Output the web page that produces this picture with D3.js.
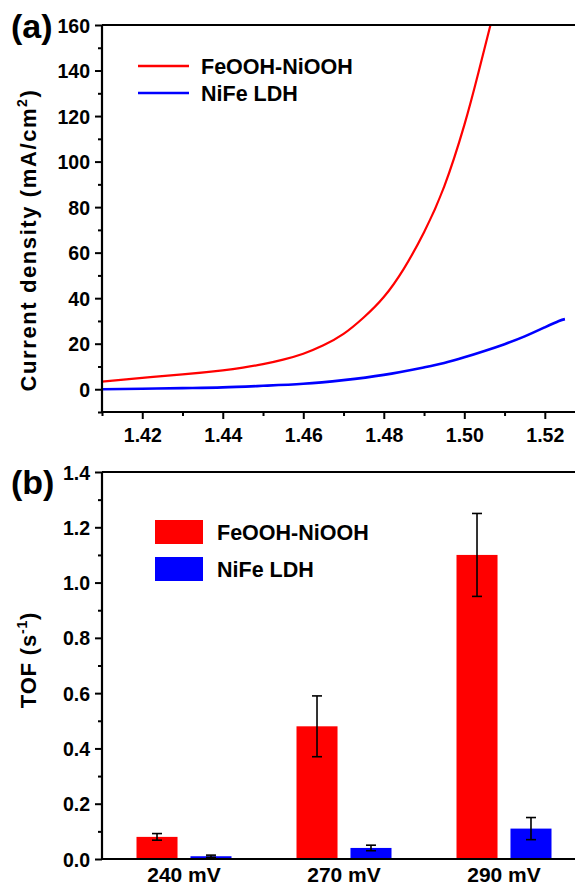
<!DOCTYPE html>
<html>
<head>
<meta charset="utf-8">
<script src="https://cdn.jsdelivr.net/npm/d3@7"></script>
<style>
  body { margin: 0; background: #fff; }
  svg { font-family: "Liberation Sans", Arial, sans-serif; font-weight: bold; }
</style>
</head>
<body>
<div id="chart"></div>
<script>
// (a) polarization curves
const potential_red = [1.41, 1.42, 1.43, 1.44, 1.445, 1.45, 1.455, 1.46, 1.465, 1.47, 1.475, 1.48, 1.485, 1.49, 1.495, 1.50, 1.5035, 1.5065];
const current_red = [3.3, 5.0, 6.5, 8.3, 9.5, 11.0, 13.0, 15.6, 19.3, 24.3, 31.5, 40.5, 53, 69, 89, 116, 139, 160];
const potential_blue = [1.41, 1.42, 1.43, 1.44, 1.45, 1.46, 1.47, 1.48, 1.49, 1.495, 1.50, 1.505, 1.51, 1.515, 1.52, 1.5235, 1.525];
const current_blue = [0.0, 0.2, 0.5, 0.8, 1.5, 2.4, 4.0, 6.3, 9.6, 11.5, 14.0, 16.8, 19.8, 23.2, 27.2, 30.0, 30.8];
const xTicksA = [1.42, 1.44, 1.46, 1.48, 1.50, 1.52];
const yTicksA = [0, 20, 40, 60, 80, 100, 120, 140, 160];

// (b) TOF bars
const categories = ["240 mV", "270 mV", "290 mV"];
const series = ["FeOOH-NiOOH", "NiFe LDH"];
const tof_red = [0.08, 0.48, 1.10];
const err_red = [0.012, 0.11, 0.15];
const tof_blue = [0.01, 0.04, 0.11];
const err_blue = [0.004, 0.01, 0.04];
const yTicksB = [0, 0.2, 0.4, 0.6, 0.8, 1.0, 1.2, 1.4];

const colors = { "FeOOH-NiOOH": "#ff0000", "NiFe LDH": "#0000ff" };

const width = 575, height = 888;
const svg = d3.select("#chart").append("svg")
    .attr("width", width)
    .attr("height", height);

function drawAxisY(g, y, major, minor, fmt) {
    g.append("g")
        .call(d3.axisLeft(y).tickValues(major).tickSize(7).tickSizeOuter(0).tickFormat(fmt))
        .call(a => a.select(".domain").remove())
        .call(a => a.selectAll("text").attr("font-size", 19.5).attr("x", -12).attr("dy", "0.36em"));
    g.append("g")
        .call(d3.axisLeft(y).tickValues(minor).tickSize(4).tickFormat(""))
        .call(a => a.select(".domain").remove());
    g.selectAll(".tick line").attr("stroke", "#000").attr("stroke-width", 2);
}

// ---------- panel (a) ----------
const xa = d3.scaleLinear().domain([1.41, 1.5275]).range([102, 575]);
const ya = d3.scaleLinear().domain([-10, 160]).range([412, 25]);
const ga = svg.append("g");

svg.append("clipPath").attr("id", "clipA")
    .append("rect").attr("x", 102).attr("y", 25).attr("width", 475).attr("height", 387);

const lineA = d3.line().x(d => xa(d[0])).y(d => ya(d[1])).curve(d3.curveNatural);

ga.append("path")
    .datum(d3.zip(potential_blue, current_blue))
    .attr("clip-path", "url(#clipA)")
    .attr("fill", "none").attr("stroke", colors["NiFe LDH"]).attr("stroke-width", 2.6)
    .attr("d", lineA);
ga.append("path")
    .datum(d3.zip(potential_red, current_red))
    .attr("clip-path", "url(#clipA)")
    .attr("fill", "none").attr("stroke", colors["FeOOH-NiOOH"]).attr("stroke-width", 2.2)
    .attr("d", lineA);

const gxa = ga.append("g").attr("transform", "translate(0," + 412 + ")");
gxa.append("g")
    .call(d3.axisBottom(xa).tickValues(xTicksA).tickSize(7).tickSizeOuter(0).tickFormat(d3.format(".2f")))
    .call(a => a.select(".domain").remove())
    .call(a => a.selectAll("text").attr("font-size", 19.5).attr("y", 16));
gxa.append("g")
    .call(d3.axisBottom(xa).tickValues([1.41, 1.43, 1.45, 1.47, 1.49, 1.51]).tickSize(4).tickFormat(""))
    .call(a => a.select(".domain").remove());
gxa.selectAll(".tick line").attr("stroke", "#000").attr("stroke-width", 2);

const gya = ga.append("g").attr("transform", "translate(102,0)");
drawAxisY(gya, ya, yTicksA, [-10, 10, 30, 50, 70, 90, 110, 130, 150], d3.format("d"));

// frame
ga.append("path")
    .attr("d", "M102," + ya(160) + "H" + width + "M102," + ya(160) + "V" + ya(-10) + "H" + width)
    .attr("fill", "none").attr("stroke", "#000").attr("stroke-width", 2.2);

ga.append("text")
    .attr("transform", "translate(36,240) rotate(-90)")
    .attr("text-anchor", "middle").attr("font-size", 22).attr("letter-spacing", 1.6)
    .call(t => {
        t.append("tspan").text("Current density (mA/cm");
        t.append("tspan").text("2").attr("font-size", 14).attr("dy", -9);
        t.append("tspan").text(")").attr("dy", 9);
    });

ga.append("text").attr("x", 11).attr("y", 38).attr("font-size", 34).text("(a)");

const legA = ga.append("g");
series.forEach((s, i) => {
    legA.append("line")
        .attr("x1", 138).attr("x2", 189)
        .attr("y1", 66 + i * 27).attr("y2", 66 + i * 27)
        .attr("stroke", colors[s]).attr("stroke-width", 2.6);
    legA.append("text")
        .attr("x", 201).attr("y", 73.5 + i * 27)
        .attr("font-size", 21.5).text(s);
});

// ---------- panel (b) ----------
const xb = d3.scaleBand().domain(categories).range([104, 584]);
const xs = d3.scaleBand().domain(series).range([32.5, 127.5]).paddingInner(0.24);
const yb = d3.scaleLinear().domain([0, 1.4]).range([859, 472]);
const gb = svg.append("g");

const bars = [];
categories.forEach((c, i) => {
    bars.push({ cat: c, s: series[0], v: tof_red[i], e: err_red[i] });
    bars.push({ cat: c, s: series[1], v: tof_blue[i], e: err_blue[i] });
});

gb.selectAll("rect.bar")
    .data(bars)
    .enter()
    .append("rect")
    .attr("class", "bar")
    .attr("x", d => xb(d.cat) + xs(d.s))
    .attr("y", d => yb(d.v))
    .attr("width", xs.bandwidth())
    .attr("height", d => yb(0) - yb(d.v))
    .attr("fill", d => colors[d.s]);

const err = gb.selectAll("g.err")
    .data(bars)
    .enter()
    .append("g")
    .attr("class", "err")
    .attr("stroke", "#000").attr("stroke-width", 1.6);
const cx = d => xb(d.cat) + xs(d.s) + xs.bandwidth() / 2;
err.append("line")
    .attr("x1", cx).attr("x2", cx)
    .attr("y1", d => yb(d.v + d.e)).attr("y2", d => yb(d.v - d.e));
err.append("line")
    .attr("x1", d => cx(d) - 5).attr("x2", d => cx(d) + 5)
    .attr("y1", d => yb(d.v + d.e)).attr("y2", d => yb(d.v + d.e));
err.append("line")
    .attr("x1", d => cx(d) - 5).attr("x2", d => cx(d) + 5)
    .attr("y1", d => yb(d.v - d.e)).attr("y2", d => yb(d.v - d.e));

const gyb = gb.append("g").attr("transform", "translate(102,0)");
drawAxisY(gyb, yb, yTicksB, [0.1, 0.3, 0.5, 0.7, 0.9, 1.1, 1.3], d3.format(".1f"));

gb.append("path")
    .attr("d", "M102," + yb(1.4) + "H" + width + "M102," + yb(1.4) + "V" + yb(0) + "H" + width)
    .attr("fill", "none").attr("stroke", "#000").attr("stroke-width", 2.2);

gb.selectAll("text.cat")
    .data(categories)
    .enter()
    .append("text")
    .attr("class", "cat")
    .attr("x", d => xb(d) + xb.bandwidth() / 2)
    .attr("y", 882)
    .attr("text-anchor", "middle")
    .attr("font-size", 21)
    .text(d => d);

gb.append("text")
    .attr("transform", "translate(36,660) rotate(-90)")
    .attr("text-anchor", "middle").attr("font-size", 22).attr("letter-spacing", 0.8)
    .call(t => {
        t.append("tspan").text("TOF (s");
        t.append("tspan").text("-1").attr("font-size", 14).attr("dy", -9);
        t.append("tspan").text(")").attr("dy", 9);
    });

gb.append("text").attr("x", 11).attr("y", 494).attr("font-size", 34).text("(b)");

const legB = gb.append("g");
series.forEach((s, i) => {
    legB.append("rect")
        .attr("x", 155).attr("y", 520 + i * 37)
        .attr("width", 48).attr("height", 24)
        .attr("fill", colors[s]);
    legB.append("text")
        .attr("x", 217).attr("y", 539.5 + i * 37)
        .attr("font-size", 21.5).text(s);
});
</script>
</body>
</html>
